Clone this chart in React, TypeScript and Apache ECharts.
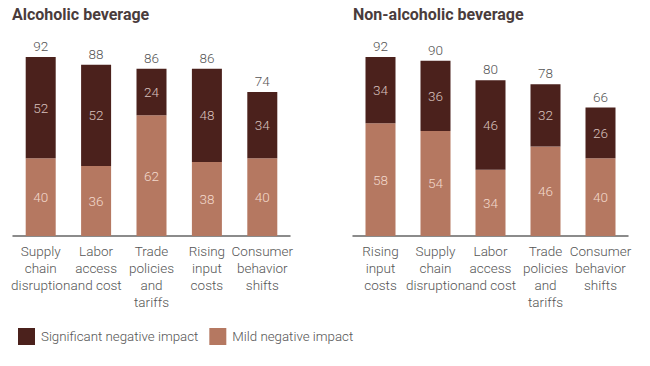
import React, { useEffect, useRef } from "react";
import * as echarts from "echarts";

const alcCategories = ["Supply\nchain\ndisruption", "Labor\naccess\nand cost", "Trade\npolicies\nand\ntariffs", "Rising\ninput\ncosts", "Consumer\nbehavior\nshifts"];
const alcSignificant = [52, 52, 24, 48, 34];
const alcMild = [40, 36, 62, 38, 40];
const alcTotal = [92, 88, 86, 86, 74];

const nonCategories = ["Rising\ninput\ncosts", "Supply\nchain\ndisruption", "Labor\naccess\nand cost", "Trade\npolicies\nand\ntariffs", "Consumer\nbehavior\nshifts"];
const nonSignificant = [34, 36, 46, 32, 26];
const nonMild = [58, 54, 34, 46, 40];
const nonTotal = [92, 90, 80, 78, 66];

const DARK = "#4b211c";
const LIGHT = "#b57861";
const FONT = "Roboto";
const W = 300;

export default function App() {
  const ref = useRef<HTMLDivElement>(null);
  useEffect(() => {
    if (!ref.current) return;
    const chart = echarts.init(ref.current, null, { renderer: "svg" });
    const grids = [
      { left: 13, top: 41.4, width: 277, height: 194.6 },
      { left: 353, top: 41.4, width: 275, height: 194.6 },
    ];
    const cats = [alcCategories, nonCategories];
    const sig = [alcSignificant, nonSignificant];
    const mild = [alcMild, nonMild];
    const tot = [alcTotal, nonTotal];
    const series: any[] = [];
    [0, 1].forEach((i) => {
      series.push({
        name: "Mild negative impact",
        type: "bar",
        stack: "s" + i,
        xAxisIndex: i,
        yAxisIndex: i,
        barWidth: 30,
        data: mild[i],
        itemStyle: { color: LIGHT },
        label: { show: true, position: "inside", color: "#f3d9cc", fontSize: 13.5, fontWeight: W, fontFamily: FONT },
      });
      series.push({
        name: "Significant negative impact",
        type: "bar",
        stack: "s" + i,
        xAxisIndex: i,
        yAxisIndex: i,
        barWidth: 30,
        data: sig[i],
        itemStyle: { color: DARK },
        label: { show: true, position: "inside", color: "#d8c0bc", fontSize: 13.5, fontWeight: W, fontFamily: FONT },
      });
      series.push({
        name: "total",
        type: "bar",
        xAxisIndex: i,
        yAxisIndex: i,
        barWidth: 30,
        barGap: "-100%",
        data: tot[i],
        itemStyle: { color: "transparent" },
        label: { show: true, position: "top", distance: 4, color: "#555", fontSize: 13.5, fontWeight: W, fontFamily: FONT },
        silent: true,
      });
    });
    chart.setOption({
      animation: false,
      title: [
        { text: "Alcoholic beverage", left: 12, top: 6, padding: 0, textStyle: { fontFamily: FONT, fontSize: 16, fontWeight: "bold", color: "#4a3c3c" } },
        { text: "Non-alcoholic beverage", left: 353, top: 6, padding: 0, textStyle: { fontFamily: FONT, fontSize: 16, fontWeight: "bold", color: "#4a3c3c" } },
      ],
      legend: {
        data: ["Significant negative impact", "Mild negative impact"],
        left: 18,
        top: 328,
        padding: 0,
        itemWidth: 17,
        itemHeight: 17,
        itemGap: 11,
        icon: "rect",
        textStyle: { fontFamily: FONT, fontSize: 13.3, fontWeight: W, color: "#555", padding: [0, 0, 0, 1] },
      },
      grid: grids,
      xAxis: [0, 1].map((i) => ({
        type: "category",
        gridIndex: i,
        data: cats[i],
        axisLine: { lineStyle: { color: "#666", width: 1.5 } },
        axisTick: { show: false },
        axisLabel: { fontFamily: FONT, fontSize: 13.5, fontWeight: W, color: "#555", lineHeight: 17, margin: 6, interval: 0 },
      })),
      yAxis: [0, 1].map((i) => ({
        type: "value",
        gridIndex: i,
        min: 0,
        max: 100,
        show: false,
        splitLine: { show: false },
      })),
      series,
    });
    return () => chart.dispose();
  }, []);
  return <div ref={ref} style={{ width: 650, height: 366, position: "absolute", left: 0, top: 0, background: "#fff" }} />;
}
